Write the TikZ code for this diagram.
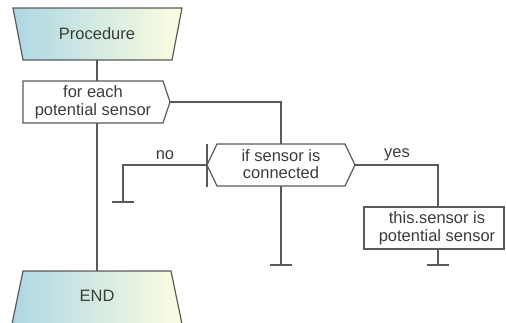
\documentclass[tikz,border=0pt]{standalone}
\usepackage{fontspec}
\setmainfont{Liberation Sans}
\usetikzlibrary{calc}
\definecolor{linegray}{HTML}{5A5A5A}
\definecolor{textgray}{HTML}{3C3C3C}
\definecolor{gradblue}{HTML}{ADD7E3}
\definecolor{gradcream}{HTML}{FCFDE0}
\tikzset{
  shapeline/.style={draw=linegray, line width=1.2pt},
  flowline/.style={draw=linegray, line width=1.2pt},
  termfill/.style={shapeline, left color=gradblue, right color=gradcream},
  label/.style={text=textgray, font=\fontsize{16.5}{17.5}\selectfont, align=center, inner sep=0pt},
}
\begin{document}
\begin{tikzpicture}[x=1pt, y=-1pt]
  \useasboundingbox (0,0) rectangle (506,322);
  \clip (0,0) rectangle (506,322);

  % start terminator
  \path[termfill] (13,8) -- (182,8) -- (172,60) -- (23,60) -- cycle;
  \node[label] (proc) at (97,34) {Procedure};
  \coordinate (proc-s) at (97,60);

  % loop block
  \path[shapeline, fill=white] (23,81) -- (163,81) -- (170,102) -- (163,123) -- (23,123) -- cycle;
  \node[label] (loop) at (93,102) {for each\\potential sensor};
  \coordinate (loop-n) at (97,81);
  \coordinate (loop-s) at (97,123);
  \coordinate (loop-e) at (170,102);

  % decision block
  \path[shapeline, fill=white] (217,144) -- (345,144) -- (355,165) -- (345,186) -- (217,186) -- (207,165) -- cycle;
  \draw[shapeline] (207,144) -- (207,187);
  \node[label] (cond) at (281,164) {if sensor is\\connected};
  \coordinate (cond-n) at (281,144);
  \coordinate (cond-s) at (281,186);
  \coordinate (cond-w) at (207,165);
  \coordinate (cond-e) at (355,165);

  % action block
  \path[shapeline, fill=white] (364,207) rectangle (504,249);
  \node[label] (act) at (437,228) {this.sensor is\\potential sensor};
  \coordinate (act-n) at (438,207);
  \coordinate (act-s) at (438,249);

  % end terminator
  \path[termfill] (23,271) -- (171,271) -- (182,324) -- (12,324) -- cycle;
  \node[label] (fin) at (97,296) {END};
  \coordinate (fin-n) at (97,271);

  % branch ends
  \coordinate (no-end) at (123,202);
  \coordinate (mid-end) at (281,265);
  \coordinate (yes-end) at (438,265);

  % connectors
  \draw[flowline] (proc-s) -- (loop-n);
  \draw[flowline] (loop-s) -- (fin-n);
  \draw[flowline] (loop-e) -| (cond-n);
  \draw[flowline] (cond-w) -| (no-end);
  \draw[flowline] ($(no-end)+(-11,0)$) -- ($(no-end)+(11,0)$);
  \draw[flowline] (cond-s) -- (mid-end);
  \draw[flowline] ($(mid-end)+(-11,0)$) -- ($(mid-end)+(11,0)$);
  \draw[flowline] (cond-e) -| (act-n);
  \draw[flowline] (act-s) -- (yes-end);
  \draw[flowline] ($(yes-end)+(-11,0)$) -- ($(yes-end)+(11,0)$);

  % branch labels
  \node[label] (no-lbl) at (165,155) {no};
  \node[label] (yes-lbl) at (397,155) {yes};
\end{tikzpicture}
\end{document}
